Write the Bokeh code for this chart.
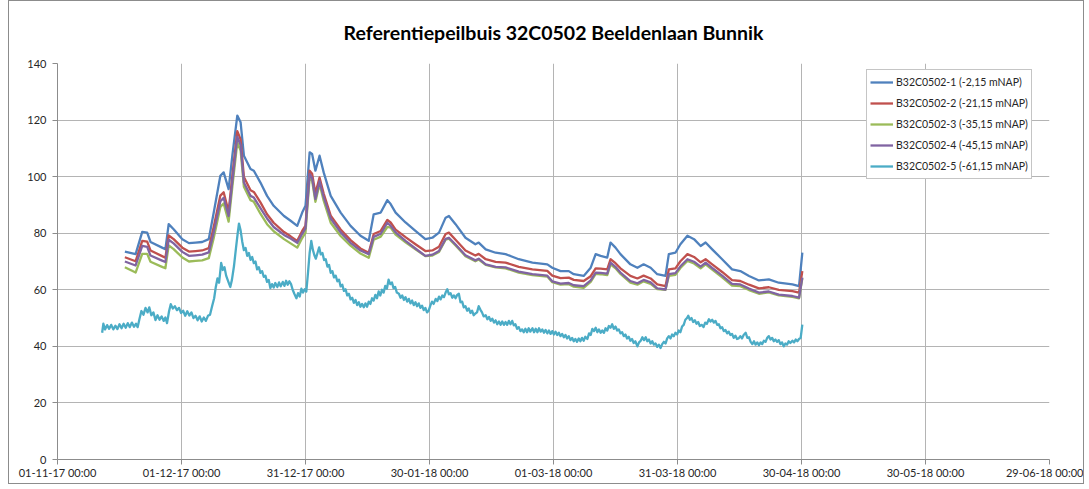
import pandas as pd
from bokeh.plotting import figure
from bokeh.models import (FixedTicker, DatetimeTickFormatter, Legend, LegendItem,
                          Range1d, ColumnDataSource)
from bokeh.embed import file_html
from bokeh.resources import INLINE

# ---------------- data ----------------
START = "2017-11-01"
title_text = "Referentiepeilbuis 32C0502 Beeldenlaan Bunnik"
series_names = ["B32C0502-1 (-2,15 mNAP)", "B32C0502-2 (-21,15 mNAP)",
                "B32C0502-3 (-35,15 mNAP)", "B32C0502-4 (-45,15 mNAP)",
                "B32C0502-5 (-61,15 mNAP)"]
colors = ["#4F81BD", "#C0504D", "#9BBB59", "#8064A2", "#4BACC6"]
x_tick_dates = ["2017-11-01", "2017-12-01", "2017-12-31", "2018-01-30", "2018-03-01",
                "2018-03-31", "2018-04-30", "2018-05-30", "2018-06-29"]
y_ticks = [0, 20, 40, 60, 80, 100, 120, 140]

# days since 2017-11-01 for series 1-4
days_1_4 = [16.3, 18.9, 20.5, 21.7, 22.5, 25.3, 26.1, 26.9, 28.1, 30.2,
            31.8, 33.4, 35.0, 36.6, 37.8, 39.4, 40.2, 41.4, 42.3, 43.5,
            44.3, 45.1, 46.7, 47.5, 49.1, 50.7, 52.3, 54.8, 56.4, 58.0,
            59.2, 60.0, 61.0, 61.6, 62.4, 63.4, 64.4, 66.1, 68.5, 70.9,
            73.3, 75.3, 76.5, 78.2, 79.8, 80.6, 81.8, 84.2, 86.6, 89.0,
            90.7, 92.3, 93.9, 94.7, 96.3, 98.7, 101.1, 101.9, 103.6, 106.0,
            108.4, 111.6, 114.9, 118.5, 119.7, 121.7, 123.7, 124.9, 127.3, 129.0,
            130.2, 131.4, 133.0, 133.8, 135.0, 136.2, 138.6, 140.3, 141.8, 143.5,
            145.1, 147.1, 147.9, 149.5, 150.7, 152.4, 154.0, 155.6, 156.8, 158.4,
            160.8, 163.2, 165.2, 167.3, 169.7, 172.1, 174.5, 177.8, 179.4, 180.2]

s1 = [73.5, 72.6, 80.5, 80.2, 76.9, 74.9, 74.3, 83.2, 81.4, 77.9,
      76.5, 76.7, 76.9, 77.9, 87.3, 100.3, 101.5, 95.6, 107.4, 121.6,
      119.2, 107.4, 102.7, 102.1, 97.9, 93.2, 89.7, 86.1, 84.4, 82.6,
      87.3, 89.7, 108.6, 108.0, 102.1, 107.4, 101.5, 93.2, 87.3, 82.6,
      79.1, 77.3, 86.7, 87.3, 91.7, 90.3, 87.3, 83.8, 80.8, 77.9,
      78.4, 80.2, 85.5, 86.1, 83.2, 78.4, 76.1, 76.7, 74.3, 73.1,
      72.6, 70.8, 69.6, 69.0, 67.8, 66.6, 66.6, 65.5, 64.9, 67.8,
      72.6, 72.0, 71.4, 76.7, 74.9, 72.6, 69.0, 67.8, 69.0, 67.8,
      65.5, 64.9, 72.6, 73.1, 76.1, 79.1, 77.9, 75.5, 76.7, 74.3,
      70.8, 67.2, 66.6, 64.9, 63.3, 63.7, 62.5, 61.9, 61.3, 73.1]

s2 = [71.5, 70.1, 77.3, 77.0, 73.9, 71.9, 71.3, 79.2, 77.9, 74.9,
      73.5, 73.7, 73.9, 74.7, 82.3, 93.3, 94.5, 87.6, 100.4, 116.1,
      113.2, 99.9, 95.2, 94.6, 90.9, 86.7, 83.7, 80.4, 78.9, 77.3,
      80.8, 82.7, 102.1, 101.0, 94.1, 99.7, 94.0, 86.2, 81.3, 77.6,
      74.6, 73.1, 79.7, 80.8, 84.7, 83.8, 81.3, 78.6, 76.1, 73.7,
      73.9, 75.2, 79.7, 80.2, 77.7, 73.9, 72.1, 72.7, 70.8, 69.9,
      69.6, 68.1, 67.2, 66.7, 65.0, 64.1, 64.3, 63.5, 63.1, 64.8,
      67.6, 67.5, 67.2, 70.8, 69.4, 67.6, 64.9, 64.0, 65.0, 64.0,
      61.9, 61.3, 67.2, 67.6, 70.1, 72.6, 71.6, 69.7, 70.8, 69.0,
      66.3, 63.4, 63.1, 61.8, 60.5, 60.9, 60.0, 59.5, 59.0, 66.6]

s3 = [68.0, 66.1, 72.7, 72.7, 69.9, 68.1, 67.6, 75.7, 74.4, 71.4,
      70.0, 70.2, 70.4, 71.2, 78.3, 89.3, 90.5, 84.1, 96.4, 112.1,
      109.2, 96.4, 91.7, 91.1, 86.9, 83.2, 80.7, 77.9, 76.4, 74.9,
      78.3, 80.2, 99.6, 98.5, 91.1, 97.4, 91.5, 83.7, 79.0, 75.6,
      72.8, 71.3, 77.7, 78.8, 82.2, 82.0, 79.5, 76.8, 74.3, 71.9,
      72.1, 73.4, 77.7, 78.1, 75.7, 71.9, 70.1, 70.7, 68.8, 67.9,
      67.6, 66.1, 65.2, 64.7, 62.7, 61.8, 62.0, 61.1, 60.7, 62.8,
      65.6, 65.5, 65.2, 69.0, 67.6, 65.6, 62.5, 61.8, 63.0, 62.1,
      60.2, 60.0, 64.9, 65.3, 67.7, 70.2, 69.3, 67.6, 69.0, 67.1,
      64.4, 61.5, 61.3, 59.9, 58.6, 59.1, 58.0, 57.5, 57.0, 64.1]

s4 = [70.0, 68.6, 75.5, 75.2, 72.1, 70.3, 69.8, 77.7, 76.4, 73.4,
      72.0, 72.2, 72.4, 73.2, 80.3, 91.3, 92.5, 86.1, 98.4, 114.1,
      111.2, 97.9, 93.2, 92.6, 88.9, 85.2, 82.2, 79.4, 78.1, 76.6,
      79.8, 81.7, 100.9, 99.5, 92.1, 98.4, 92.8, 85.2, 80.3, 76.6,
      73.9, 72.6, 78.7, 79.8, 83.7, 82.6, 80.3, 77.3, 74.6, 72.0,
      72.4, 73.7, 78.0, 78.4, 76.0, 72.2, 70.4, 71.0, 69.0, 68.1,
      67.9, 66.4, 65.5, 65.0, 63.0, 62.2, 62.4, 61.6, 61.3, 63.3,
      66.1, 66.0, 65.7, 69.6, 68.1, 66.1, 63.1, 62.3, 63.5, 62.6,
      60.5, 60.1, 65.5, 65.9, 68.3, 70.8, 69.9, 68.2, 69.6, 67.7,
      65.0, 62.1, 61.9, 60.4, 59.0, 59.4, 58.3, 57.8, 57.2, 64.3]

# series 5: (days since 2017-11-01, value)
s5_points = [
    (10.8, 44.8), (11.1, 48.0), (11.5, 46.0), (12.0, 47.5), (12.5, 46.2), (13.0, 47.6),
    (13.5, 46.0), (14.0, 47.3), (14.5, 46.1), (15.0, 47.8), (15.5, 46.4), (16.0, 48.0),
    (16.5, 46.6), (17.0, 48.2), (17.5, 46.8), (18.0, 48.4), (18.5, 46.9), (19.0, 48.0),
    (19.4, 46.8), (19.8, 49.5), (20.3, 52.5), (20.8, 51.2), (21.3, 53.6), (21.8, 52.0),
    (22.2, 53.8), (22.7, 51.0), (23.2, 52.0), (23.7, 49.3), (24.2, 51.0), (24.7, 49.4),
    (25.2, 50.6), (25.7, 49.0), (26.1, 50.2), (26.5, 48.2), (27.0, 52.5), (27.4, 54.9),
    (27.9, 53.4), (28.4, 54.2), (28.9, 52.8), (29.4, 53.6), (29.9, 51.8), (30.4, 52.6),
    (30.9, 50.8), (31.4, 52.4), (31.9, 50.9), (32.4, 52.0), (32.9, 50.0), (33.4, 50.8),
    (33.9, 49.2), (34.4, 50.6), (34.9, 48.8), (35.4, 50.2), (35.9, 49.0), (36.4, 50.8),
    (36.9, 51.2), (37.4, 54.2), (37.9, 57.0), (38.3, 61.0), (38.7, 64.0), (39.1, 62.5),
    (39.6, 69.5), (40.0, 67.0), (40.4, 68.0), (40.8, 65.0), (41.3, 63.0), (41.8, 61.0),
    (42.2, 63.5), (42.7, 68.4), (43.2, 75.0), (43.6, 80.0), (43.9, 83.4), (44.3, 81.0),
    (44.7, 77.0), (45.1, 74.0), (45.5, 74.8), (45.9, 72.0), (46.3, 73.0), (46.7, 70.6),
    (47.1, 71.6), (47.5, 69.4), (47.9, 70.0), (48.3, 67.2), (48.7, 68.0), (49.1, 66.0),
    (49.5, 66.6), (49.9, 64.6), (50.3, 65.0), (50.7, 62.8), (51.1, 63.5), (51.5, 60.6),
    (51.9, 62.0), (52.3, 60.8), (52.7, 62.4), (53.2, 61.0), (53.6, 62.6), (54.0, 61.2),
    (54.5, 62.8), (54.9, 61.4), (55.3, 63.2), (55.7, 61.8), (56.1, 63.0), (56.5, 62.0),
    (56.9, 60.0), (57.3, 58.6), (57.8, 57.0), (58.2, 58.8), (58.6, 57.6), (59.0, 60.4),
    (59.4, 59.0), (59.8, 60.2), (60.2, 59.4), (60.6, 66.0), (61.0, 73.0), (61.4, 77.3),
    (61.8, 74.0), (62.2, 72.0), (62.5, 71.0), (62.9, 73.0), (63.3, 75.0), (63.7, 72.5),
    (64.1, 73.0), (64.5, 70.5), (64.9, 70.8), (65.3, 68.2), (65.7, 68.8), (66.1, 66.0),
    (66.5, 66.6), (66.9, 64.4), (67.3, 65.0), (67.7, 63.0), (68.1, 63.6), (68.5, 61.2),
    (68.9, 61.8), (69.3, 59.6), (69.7, 60.2), (70.1, 58.0), (70.5, 58.6), (70.9, 56.6),
    (71.3, 57.2), (71.7, 55.4), (72.1, 56.4), (72.5, 54.6), (72.9, 55.6), (73.3, 54.0),
    (73.7, 55.0), (74.1, 53.8), (74.5, 55.2), (74.9, 54.0), (75.3, 55.8), (75.7, 55.0),
    (76.1, 57.0), (76.5, 56.2), (76.9, 58.2), (77.3, 57.0), (77.7, 59.4), (78.1, 58.0),
    (78.5, 60.0), (78.9, 59.0), (79.3, 61.4), (79.7, 60.4), (80.1, 63.6), (80.5, 62.0),
    (80.9, 62.6), (81.3, 60.6), (81.7, 61.0), (82.1, 59.0), (82.6, 58.6), (83.0, 57.2),
    (83.4, 58.0), (83.8, 56.4), (84.2, 57.4), (84.6, 55.8), (85.0, 56.8), (85.4, 55.2),
    (85.8, 56.2), (86.2, 54.6), (86.6, 55.6), (87.0, 54.2), (87.4, 55.2), (87.8, 53.6),
    (88.2, 54.4), (88.6, 52.8), (89.0, 53.6), (89.4, 52.0), (89.8, 52.6), (90.2, 54.4),
    (90.6, 55.8), (91.0, 55.0), (91.5, 56.8), (91.9, 56.0), (92.3, 57.6), (92.7, 56.6),
    (93.1, 58.0), (93.5, 57.4), (93.9, 59.0), (94.3, 60.2), (94.7, 58.4), (95.1, 58.8),
    (95.5, 57.2), (95.9, 58.0), (96.3, 57.0), (96.7, 58.2), (97.1, 58.6), (97.5, 55.6),
    (97.9, 55.8), (98.3, 53.8), (98.7, 54.2), (99.1, 52.6), (99.5, 53.4), (99.9, 51.8),
    (100.3, 52.6), (100.7, 51.0), (101.1, 51.6), (101.5, 52.0), (101.9, 54.2), (102.3, 53.0),
    (102.7, 52.0), (103.1, 50.6), (103.6, 51.0), (104.0, 49.6), (104.4, 50.4), (104.8, 49.0),
    (105.2, 49.8), (105.6, 48.4), (106.0, 49.2), (106.4, 47.8), (106.8, 48.8), (107.2, 47.6),
    (107.6, 48.8), (108.0, 47.6), (108.4, 48.6), (108.8, 47.6), (109.2, 49.0), (109.6, 47.8),
    (110.0, 49.0), (110.4, 47.4), (110.8, 47.8), (111.2, 46.2), (111.6, 46.8), (112.0, 45.4),
    (112.4, 46.0), (112.8, 45.0), (113.2, 46.2), (113.6, 45.0), (114.0, 46.4), (114.4, 45.2),
    (114.9, 46.4), (115.3, 45.0), (115.7, 46.2), (116.1, 45.0), (116.5, 46.4), (116.9, 45.2),
    (117.3, 46.0), (117.7, 44.8), (118.1, 45.8), (118.5, 44.6), (118.9, 45.6), (119.3, 44.4),
    (119.7, 45.4), (120.1, 44.2), (120.5, 45.2), (120.9, 44.0), (121.3, 44.8), (121.7, 43.6),
    (122.1, 44.4), (122.5, 43.2), (122.9, 44.0), (123.3, 42.8), (123.7, 43.6), (124.1, 42.2),
    (124.5, 43.0), (124.9, 41.8), (125.3, 42.6), (125.7, 41.6), (126.1, 42.8), (126.5, 41.8),
    (126.9, 43.0), (127.3, 42.0), (127.7, 43.4), (128.2, 42.6), (128.6, 44.6), (129.0, 44.0),
    (129.4, 46.2), (129.8, 45.4), (130.2, 46.6), (130.6, 45.0), (131.0, 46.0), (131.4, 44.8),
    (131.8, 45.6), (132.2, 44.8), (132.6, 46.4), (133.0, 45.6), (133.4, 47.2), (133.8, 46.6),
    (134.2, 47.8), (134.6, 46.2), (135.0, 47.0), (135.4, 45.6), (135.8, 46.0), (136.2, 44.6),
    (136.6, 45.0), (137.0, 43.6), (137.4, 44.2), (137.8, 42.8), (138.2, 43.4), (138.6, 42.0),
    (139.0, 42.6), (139.4, 41.2), (139.8, 41.8), (140.3, 40.0), (140.7, 41.4), (141.1, 42.0),
    (141.5, 43.2), (141.9, 42.2), (142.3, 43.2), (142.7, 41.8), (143.1, 42.4), (143.5, 41.0),
    (143.9, 41.8), (144.3, 40.6), (144.7, 41.0), (145.1, 39.8), (145.5, 40.6), (145.9, 39.4),
    (146.3, 40.8), (146.7, 41.6), (147.1, 41.0), (147.5, 42.8), (147.9, 43.6), (148.3, 42.8),
    (148.7, 44.2), (149.1, 43.6), (149.5, 44.8), (149.9, 44.2), (150.3, 45.6), (150.7, 45.0),
    (151.1, 47.0), (151.5, 47.6), (151.9, 49.4), (152.3, 50.0), (152.6, 50.8), (153.0, 49.4),
    (153.4, 50.0), (153.8, 48.6), (154.2, 49.2), (154.6, 48.0), (155.0, 48.6), (155.4, 47.2),
    (155.9, 47.6), (156.3, 46.8), (156.7, 48.4), (157.1, 48.0), (157.6, 49.6), (158.0, 48.8),
    (158.4, 49.4), (158.8, 48.4), (159.2, 49.0), (159.6, 47.6), (160.0, 47.8), (160.4, 46.4),
    (160.8, 46.8), (161.2, 45.4), (161.6, 45.8), (162.0, 44.6), (162.4, 45.2), (162.8, 44.0),
    (163.2, 44.4), (163.6, 43.0), (164.0, 43.8), (164.4, 42.6), (164.8, 42.8), (165.2, 43.6),
    (165.6, 42.8), (166.0, 44.0), (166.5, 44.8), (166.9, 43.0), (167.3, 43.2), (167.7, 41.6),
    (168.1, 40.8), (168.5, 41.8), (168.9, 40.6), (169.3, 41.4), (169.7, 40.4), (170.1, 41.4),
    (170.5, 40.8), (170.9, 42.0), (171.3, 41.6), (171.7, 43.0), (172.1, 43.6), (172.5, 42.4),
    (172.9, 43.0), (173.3, 41.8), (173.7, 42.4), (174.1, 41.6), (174.5, 42.2), (174.9, 40.8),
    (175.3, 41.4), (175.7, 40.0), (176.1, 41.0), (176.5, 40.6), (176.9, 41.8), (177.3, 41.2),
    (177.8, 42.0), (178.2, 41.4), (178.6, 42.4), (179.0, 41.8), (179.4, 42.6), (179.8, 43.0),
    (180.2, 47.7),
]

# ---------------- build ----------------
t0 = pd.Timestamp(START)


def to_time(days):
    return [t0 + pd.Timedelta(days=float(d)) for d in days]


t14 = to_time(days_1_4)
days_5 = [p[0] for p in s5_points]
s5 = [p[1] for p in s5_points]
t5 = to_time(days_5)

x_start = pd.Timestamp(x_tick_dates[0])
x_end = pd.Timestamp(x_tick_dates[-1])

FONT = "Lato"

p = figure(width=1076, height=484, x_axis_type="datetime",
           x_range=Range1d(x_start, x_end), y_range=Range1d(0, 140),
           output_backend="svg", toolbar_location=None,
           min_border_left=48, min_border_right=36, min_border_top=62,
           min_border_bottom=26)
p.styles = {"border": "1px solid #8c8c8c", "margin-left": "8px"}

p.title.text = title_text
p.title.align = "center"
p.title.vertical_align = "top"
p.title.text_font = FONT
p.title.text_font_style = "bold"
p.title.text_font_size = "19.5px"
p.title.text_color = "#000000"
p.title.standoff = 35

p.outline_line_color = None
p.background_fill_color = "white"
p.border_fill_color = "white"

renderers = []
series_x = [t14, t14, t14, t14, t5]
series_y = [s1, s2, s3, s4, s5]
for i in range(5):
    src = ColumnDataSource(dict(x=series_x[i], y=series_y[i]))
    r = p.line("x", "y", source=src, line_color=colors[i], line_width=2.3,
               line_join="round")
    renderers.append(r)

# axes
tick_ms = [pd.Timestamp(d).value // 10**6 for d in x_tick_dates]
p.xaxis.ticker = FixedTicker(ticks=tick_ms)
fmt = "%d-%m-%y %H:%M"
p.xaxis.formatter = DatetimeTickFormatter(
    microseconds=fmt, milliseconds=fmt, seconds=fmt, minsec=fmt, minutes=fmt,
    hourmin=fmt, hours=fmt, days=fmt, months=fmt, years=fmt)
p.yaxis.ticker = FixedTicker(ticks=y_ticks)

for ax in (p.xaxis[0], p.yaxis[0]):
    ax.axis_line_color = "#8c8c8c"
    ax.major_tick_line_color = "#8c8c8c"
    ax.major_tick_out = 5
    ax.major_tick_in = 0
    ax.minor_tick_line_color = None
    ax.major_label_text_font = FONT
    ax.major_label_text_font_size = "11px"
    ax.major_label_text_color = "#262626"
p.xaxis.major_label_standoff = 1
p.yaxis.major_label_standoff = 6

p.xgrid.grid_line_color = "#b4b4b4"
p.ygrid.grid_line_color = "#b4b4b4"
p.xgrid.grid_line_width = 1
p.ygrid.grid_line_width = 1

legend = Legend(items=[LegendItem(label=series_names[i], renderers=[renderers[i]])
                       for i in range(5)],
                location=(809, 280))
legend.border_line_color = "#8c8c8c"
legend.border_line_width = 1
legend.background_fill_color = "white"
legend.background_fill_alpha = 1
legend.label_text_font = FONT
legend.label_text_font_size = "10.5px"
legend.label_text_color = "#262626"
legend.glyph_width = 23
legend.glyph_height = 18
legend.label_height = 18
legend.spacing = 3
legend.padding = 3
legend.label_standoff = 3
legend.margin = 0
p.add_layout(legend)

open("out.html", "w").write(file_html(p, INLINE))
